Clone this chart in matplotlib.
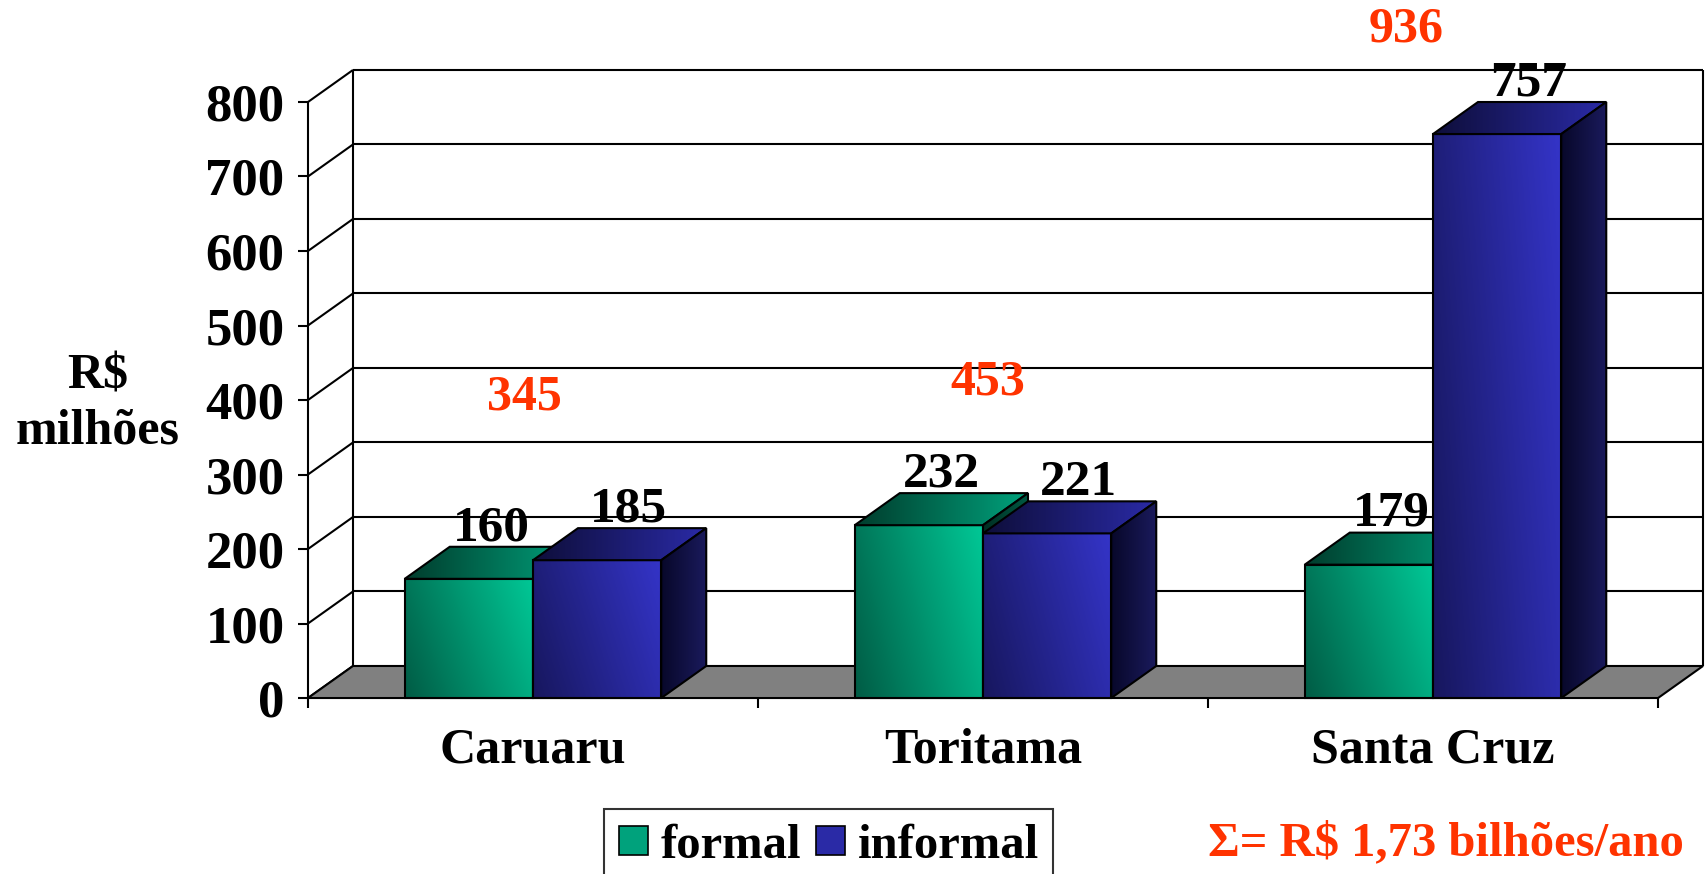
import matplotlib.pyplot as plt
import numpy as np
from matplotlib.patches import Polygon, Patch
from matplotlib.colors import LinearSegmentedColormap

cities = ['Caruaru', 'Toritama', 'Santa Cruz']
formal = [160, 232, 179]
informal = [185, 221, 757]
y_ticks = [0, 100, 200, 300, 400, 500, 600, 700, 800]
series_names = ['formal', 'informal']
total_text = 'Σ= R$ 1,73 bilhões/ano'

# onde ficam os totais em vermelho (caixas de texto soltas no original)
total_label_pos = [(0.48, 404), (1.51, 423), (2.44, 897)]

plt.rcParams['font.family'] = ['Liberation Serif', 'DejaVu Serif']
plt.rcParams['font.weight'] = 'bold'

DX, DY = 0.1, 43      # profundidade do efeito 3d
HALF = 0.285          # largura de cada barra
RED = '#ff3300'
FS = 36

green_front = ['#005c45', '#00c896']
green_top = ['#003d2d', '#00a27c']
green_side = ['#002e22', '#005a44']
blue_front = ['#17175e', '#3434c8']
blue_top = ['#0e0e3a', '#2a2aa6']
blue_side = ['#08082a', '#1a1a5c']

fig = plt.figure(figsize=(17.05, 8.74), dpi=100, facecolor='white')
ax = fig.add_axes([0, 0, 1, 1])
ax.axis('off')

z = [1]
def nz():
    z[0] += 1
    return z[0]


def face(verts, colors, wx=0.7, wy=0.3):
    verts = np.array(verts, dtype=float)
    x0, y0 = verts.min(axis=0)
    x1, y1 = verts.max(axis=0)
    gx, gy = np.meshgrid(np.linspace(0, 1, 64), np.linspace(0, 1, 64))
    g = wx * gx + wy * gy
    cmap = LinearSegmentedColormap.from_list('f', colors)
    im = ax.imshow(g, cmap=cmap, extent=(x0, x1, y0, y1), origin='lower',
                   aspect='auto', vmin=0, vmax=1, zorder=nz(), interpolation='bilinear')
    poly = Polygon(verts, closed=True, facecolor='none', edgecolor='black', lw=1.5, zorder=nz())
    ax.add_patch(poly)
    im.set_clip_path(poly)


def line(xs, ys, lw=1.5):
    ax.plot(xs, ys, color='black', lw=lw, solid_capstyle='butt', zorder=nz())


# parede do fundo e lateral
top = y_ticks[-1]
for v in y_ticks[1:]:
    line([DX, 3 + DX], [v + DY, v + DY])
line([DX, DX], [DY, top + DY])
line([3 + DX, 3 + DX], [DY, top + DY])
for v in y_ticks:
    line([0, DX], [v, v + DY])
    line([-0.022, 0], [v, v])
    ax.text(-0.052, v, str(v), ha='right', va='center_baseline', fontsize=38, zorder=50)
line([0, 0], [0, top])

# chao
ax.add_patch(Polygon([(0, 0), (3, 0), (3 + DX, DY), (DX, DY)], closed=True,
                     facecolor='#808080', edgecolor='black', lw=1.5, zorder=nz()))
for i in range(len(cities) + 1):
    line([i, i], [0, -14])

# barras
for i in range(len(cities)):
    for j, (vals, cols) in enumerate([(formal, (green_front, green_top, green_side)),
                                      (informal, (blue_front, blue_top, blue_side))]):
        h = vals[i]
        x0 = i + 0.5 - HALF + j * HALF
        x1 = x0 + HALF
        face([(x0, 0), (x1, 0), (x1, h), (x0, h)], cols[0], 0.75, 0.25)
        face([(x0, h), (x1, h), (x1 + DX, h + DY), (x0 + DX, h + DY)], cols[1], 1.0, 0.0)
        face([(x1, 0), (x1 + DX, DY), (x1 + DX, h + DY), (x1, h)], cols[2], 1.0, 0.0)

# rotulos
for i, city in enumerate(cities):
    for j, vals in enumerate([formal, informal]):
        cx = i + 0.5 - HALF / 2 + j * HALF + DX / 2 + j * 0.02
        ax.text(cx, vals[i] + DY + 9, str(vals[i]), ha='center', va='baseline',
                fontsize=37, zorder=60)
    ax.text(i + 0.5, -70, city, ha='center', va='center', fontsize=FS, zorder=60)
    px, py = total_label_pos[i]
    ax.text(px, py, str(formal[i] + informal[i]), ha='center', va='center',
            color=RED, fontsize=FS, zorder=60)

ax.text(-0.467, 395, 'R$\nmilhões', ha='center', va='center', fontsize=FS,
        linespacing=1.25, zorder=60)

handles = [Patch(facecolor='#00a27c', edgecolor='black', lw=1.2),
           Patch(facecolor='#2a2aa6', edgecolor='black', lw=1.2)]
leg = fig.legend(handles, series_names, loc='upper left', ncol=2,
                 bbox_to_anchor=(604 / 1705, 1 - 809 / 874), frameon=True,
                 fancybox=False, edgecolor='black', fontsize=35,
                 handlelength=0.6, handleheight=0.56, handletextpad=0.26,
                 columnspacing=0.3, borderpad=0.3, borderaxespad=0)
leg.get_frame().set_linewidth(1.5)

fig.text(1446 / 1705, 1 - 843 / 874, total_text, ha='center', va='center',
         color=RED, fontsize=35)

ax.set_xlim(-0.6844, 3.1044)
ax.set_ylim(-236.2, 936.9)

fig.savefig('out.png', dpi=100, facecolor='white')
